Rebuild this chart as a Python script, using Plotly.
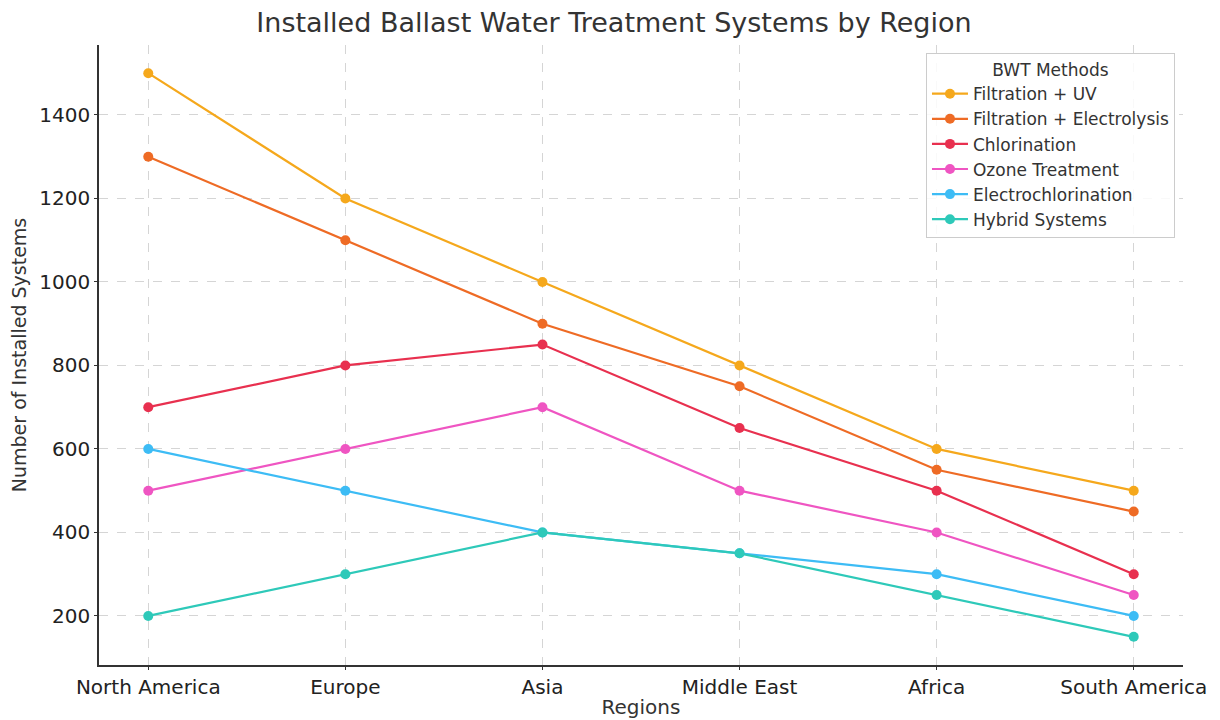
import plotly.graph_objects as go

regions = ["North America", "Europe", "Asia", "Middle East", "Africa", "South America"]
filtration_uv = [1500, 1200, 1000, 800, 600, 500]
filtration_electrolysis = [1300, 1100, 900, 750, 550, 450]
chlorination = [700, 800, 850, 650, 500, 300]
ozone = [500, 600, 700, 500, 400, 250]
electrochlorination = [600, 500, 400, 350, 300, 200]
hybrid = [200, 300, 400, 350, 250, 150]

series = [
    ("Filtration + UV", filtration_uv, "#f5a81c"),
    ("Filtration + Electrolysis", filtration_electrolysis, "#ee6b25"),
    ("Chlorination", chlorination, "#e8304f"),
    ("Ozone Treatment", ozone, "#ef55c2"),
    ("Electrochlorination", electrochlorination, "#3dbcf5"),
    ("Hybrid Systems", hybrid, "#2ec9b9"),
]

fig = go.Figure()
for name, vals, color in series:
    fig.add_trace(go.Scatter(
        x=list(range(len(regions))), y=vals, name=name, mode="lines+markers",
        line=dict(color=color, width=2.2), marker=dict(color=color, size=10),
    ))

font = "DejaVu Sans, sans-serif"
fig.update_layout(
    width=1212, height=712,
    paper_bgcolor="white", plot_bgcolor="white",
    margin=dict(l=91, r=37, t=37, b=55),
    title=dict(text="Installed Ballast Water Treatment Systems by Region", x=0.5, xanchor="center",
               y=0.98, yanchor="middle", font=dict(family=font, size=27, color="#333333")),
    font=dict(family=font, color="#333333"),
    legend=dict(
        title=dict(text="BWT Methods", side="top center", font=dict(size=17, color="#333333")),
        x=0.9926, y=0.987, xanchor="right", yanchor="top",
        bgcolor="rgba(255,255,255,0.85)", bordercolor="#cccccc", borderwidth=1,
        font=dict(size=17, color="#333333"), itemwidth=36, tracegroupgap=0,
    ),
)
fig.update_xaxes(
    tickmode="array", tickvals=list(range(len(regions))), ticktext=regions,
    range=[-0.25, 5.25], showline=True, linecolor="#333333", linewidth=1.5,
    ticks="outside", ticklen=3, tickcolor="#333333",
    showgrid=True, gridcolor="#d5d5d5", griddash="dash", gridwidth=1,
    tickfont=dict(size=20, color="#222222"),
    title=dict(text="Regions", font=dict(size=20, color="#333333"), standoff=2),
    zeroline=False, automargin=False,
)
fig.update_yaxes(
    range=[82.5, 1567.5], tickvals=[200, 400, 600, 800, 1000, 1200, 1400],
    showline=True, linecolor="#333333", linewidth=1.5,
    ticks="outside", ticklen=3, tickcolor="#333333",
    showgrid=True, gridcolor="#d5d5d5", griddash="dash", gridwidth=1,
    tickfont=dict(size=20, color="#222222"),
    title=dict(text="Number of Installed Systems", font=dict(size=19, color="#333333"), standoff=8),
    zeroline=False, automargin=False,
)
fig.write_html("out.html")
